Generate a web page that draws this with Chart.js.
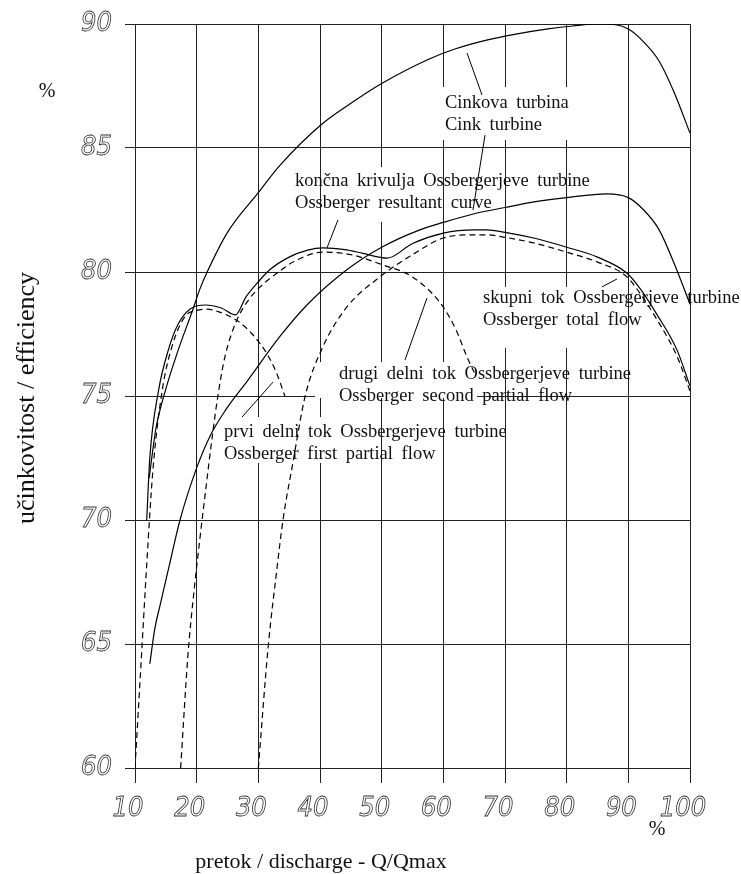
<!DOCTYPE html>
<html>
<head>
<meta charset="utf-8">
<script src="https://cdn.jsdelivr.net/npm/chart.js@4.4.1/dist/chart.umd.min.js"></script>
<style>
  html, body { margin: 0; padding: 0; background: #fff; }
  #c { display: block; }
</style>
</head>
<body>
<canvas id="c" width="741" height="874"></canvas>
<script>
// discharge Q/Qmax (%) and efficiency (%)
var cinkQ   = [12.3, 13.4, 14.9, 17, 19.4, 20.5, 21.7, 25, 30, 33.5, 40, 45, 50, 57.8, 62, 67, 72, 77, 81, 85, 88, 90, 92, 95, 97.5, 100];
var cinkEta = [71.7, 73.7, 75.2, 76.85, 78.5, 79.3, 80, 81.6, 83.2, 84.3, 85.9, 86.8, 87.6, 88.6, 89, 89.35, 89.6, 89.8, 89.92, 90, 89.97, 89.8, 89.4, 88.5, 87.2, 85.6];

var cink2Q   = [12.4, 13.2, 14.1, 15.5, 17.3, 20, 22.2, 24.6, 28.2, 33.5, 38, 44.4, 50, 56.2, 60, 65, 70, 74, 80, 86.5, 90, 92.5, 95, 97.5, 100];
var cink2Eta = [64.2, 65.6, 66.6, 68.1, 70, 72.1, 73.4, 74.4, 75.6, 77.4, 78.7, 80.1, 81.0, 81.7, 82.0, 82.35, 82.6, 82.8, 83.0, 83.15, 83.0, 82.5, 81.7, 80.3, 78.7];

var resultQ   = [11.9, 12.4, 13.8, 15.4, 17, 18.9, 21.4, 24, 26.3, 28, 29.8, 31.9, 35, 38, 40.5, 44, 47, 50.9, 55, 60, 65, 67, 70, 75, 80, 85, 89.8, 92, 94.6, 97.9, 100];
var resultEta = [70, 72.5, 75.2, 76.85, 77.9, 78.5, 78.67, 78.55, 78.27, 79.0, 79.55, 80.1, 80.6, 80.88, 80.97, 80.9, 80.75, 80.56, 81.15, 81.57, 81.7, 81.7, 81.6, 81.35, 81.0, 80.6, 79.95, 79.3, 78.3, 76.85, 75.4];

var firstQ   = [10, 11.0, 11.9, 12.9, 14.4, 16, 18.1, 20, 21.7, 23.5, 26.5, 29, 31.4, 33, 34.3];
var firstEta = [60, 64.3, 68.2, 72.0, 75.2, 77, 78.2, 78.45, 78.5, 78.4, 78.05, 77.5, 76.7, 75.9, 75.0];

var secondQ   = [17.4, 18.6, 19.6, 20.5, 21.7, 22.6, 23.5, 24.6, 26.5, 28.5, 30.3, 33, 36, 40.5, 45, 50, 55, 59.5, 62, 63.8, 65.3];
var secondEta = [60, 64.6, 67.2, 69.2, 71.7, 73.5, 75.1, 76.6, 78.05, 78.9, 79.4, 79.95, 80.45, 80.8, 80.7, 80.3, 79.8, 78.75, 77.7, 76.6, 75.8];

var totalQ   = [30, 31.6, 33, 34, 35.6, 37.6, 40.5, 44.4, 49.7, 55, 60, 65, 67, 70, 75, 80, 85, 89.8, 92, 94.6, 97.9, 100];
var totalEta = [60, 64.9, 68, 70, 72.3, 75.0, 77, 78.6, 79.8, 80.7, 81.37, 81.5, 81.5, 81.4, 81.15, 80.8, 80.4, 79.8, 79.1, 78.1, 76.6, 75.2];

var xTicks = [10, 20, 30, 40, 50, 60, 70, 80, 90, 100];
var yTicks = [60, 65, 70, 75, 80, 85, 90];

// labels, their white boxes and pointer strokes, in data units
var notes = [
  { at: [60.27, 86.81], lines: ['Cinkova turbina', 'Cink turbine'] },
  { at: [35.95, 83.67], lines: ['končna krivulja Ossbergerjeve turbine', 'Ossberger resultant curve'] },
  { at: [66.43, 78.95], lines: ['skupni tok Ossbergerjeve turbine', 'Ossberger total flow'] },
  { at: [43.08, 75.89], lines: ['drugi delni tok Ossbergerjeve turbine', 'Ossberger second partial flow'] },
  { at: [24.43, 73.55], lines: ['prvi delni tok Ossbergerjeve turbine', 'Ossberger first partial flow'] }
];
var boxes = [
  [59.46, 87.46, 85.4, 85.32],
  [40.81, 84.23, 59.46, 82.02],
  [65.95, 79.4, 86.22, 76.94],
  [39.19, 76.37, 65.46, 74.92],
  [24.6, 74.15, 48.1, 72.3]
];
var pointers = [
  [63.84, 88.83, 66.27, 87.14],
  [66.76, 85.52, 64.81, 82.5],
  [42.92, 82.1, 41.13, 80.97],
  [85.73, 79.4, 88.16, 79.72],
  [57.35, 78.95, 53.78, 76.45],
  [27.35, 74.15, 32.38, 75.56]
];

function pts(xs, ys) {
  return xs.map(function (x, i) { return { x: x, y: ys[i] }; });
}
function curve(label, xs, ys, dashed) {
  return {
    label: label,
    data: pts(xs, ys),
    showLine: true,
    borderColor: '#000',
    borderWidth: 1.2,
    borderDash: dashed ? [6, 4] : [],
    pointRadius: 0,
    cubicInterpolationMode: 'monotone',
    fill: false
  };
}

var serif = '"Liberation Serif", "Times New Roman", serif';

var annot = {
  id: 'annot',
  beforeDatasetsDraw: function (chart) {
    var c = chart.ctx, xs = chart.scales.x, ys = chart.scales.y;
    c.save();
    c.fillStyle = '#fff';
    boxes.forEach(function (b) {
      var x0 = xs.getPixelForValue(b[0]), y0 = ys.getPixelForValue(b[1]);
      var x1 = xs.getPixelForValue(b[2]), y1 = ys.getPixelForValue(b[3]);
      c.fillRect(x0, y0, x1 - x0, y1 - y0);
    });
    c.fillStyle = '#111';
    c.font = '18.5px ' + serif;
    c.wordSpacing = '4px';
    c.textBaseline = 'middle';
    c.textAlign = 'left';
    notes.forEach(function (n) {
      var x = xs.getPixelForValue(n.at[0]), y = ys.getPixelForValue(n.at[1]);
      n.lines.forEach(function (t, i) { c.fillText(t, x, y + i * 22); });
    });
    c.strokeStyle = '#000';
    c.lineWidth = 1;
    pointers.forEach(function (p) {
      c.beginPath();
      c.moveTo(xs.getPixelForValue(p[0]), ys.getPixelForValue(p[1]));
      c.lineTo(xs.getPixelForValue(p[2]), ys.getPixelForValue(p[3]));
      c.stroke();
    });
    c.restore();
  },
  afterDraw: function (chart) {
    var c = chart.ctx;
    c.save();
    c.fillStyle = '#111';
    c.font = '22px ' + serif;
    c.textAlign = 'center';
    c.textBaseline = 'middle';
    c.fillText('pretok / discharge - Q/Qmax', 321, 862);
    c.font = '20px ' + serif;
    c.fillText('%', 47, 92);
    c.fillText('%', 657, 830);
    c.translate(27, 398);
    c.rotate(-Math.PI / 2);
    c.font = '26px ' + serif;
    c.fillText('učinkovitost / efficiency', 0, 0);
    c.restore();
  }
};

var tickFont = { family: '"DejaVu Sans Condensed", "DejaVu Sans", sans-serif', size: 27, style: 'italic', weight: 'normal' };

new Chart(document.getElementById('c').getContext('2d'), {
  type: 'scatter',
  data: {
    datasets: [
      curve('Cinkova turbina', cinkQ, cinkEta, false),
      curve('Cink turbine', cink2Q, cink2Eta, false),
      curve('končna krivulja', resultQ, resultEta, false),
      curve('prvi delni tok', firstQ, firstEta, true),
      curve('drugi delni tok', secondQ, secondEta, true),
      curve('skupni tok', totalQ, totalEta, true)
    ]
  },
  options: {
    responsive: false,
    animation: false,
    layout: { padding: { top: 24, right: 51, left: 0, bottom: 0 } },
    plugins: { legend: { display: false }, tooltip: { enabled: false } },
    scales: {
      x: {
        type: 'linear', min: 10, max: 100,
        afterBuildTicks: function (s) { s.ticks = xTicks.map(function (v) { return { value: v }; }); },
        afterFit: function (s) { s.height = 106; s.paddingLeft = 0; s.paddingRight = 0; },
        grid: { color: '#222', lineWidth: 1, tickLength: 15, drawTicks: true },
        border: { display: true, color: '#222' },
        ticks: {
          font: tickFont, color: 'rgba(0,0,0,0)', textStrokeColor: '#333', textStrokeWidth: 0.8,
          padding: 10, labelOffset: -7, maxRotation: 0, autoSkip: false
        }
      },
      y: {
        type: 'linear', min: 60, max: 90,
        afterBuildTicks: function (s) { s.ticks = yTicks.map(function (v) { return { value: v }; }); },
        afterFit: function (s) { s.width = 135; s.paddingTop = 0; s.paddingBottom = 0; },
        grid: { color: '#222', lineWidth: 1, tickLength: 10, drawTicks: true },
        border: { display: true, color: '#222' },
        ticks: {
          font: tickFont, color: 'rgba(0,0,0,0)', textStrokeColor: '#333', textStrokeWidth: 0.8,
          padding: 13, autoSkip: false
        }
      }
    }
  },
  plugins: [annot]
});
</script>
</body>
</html>
